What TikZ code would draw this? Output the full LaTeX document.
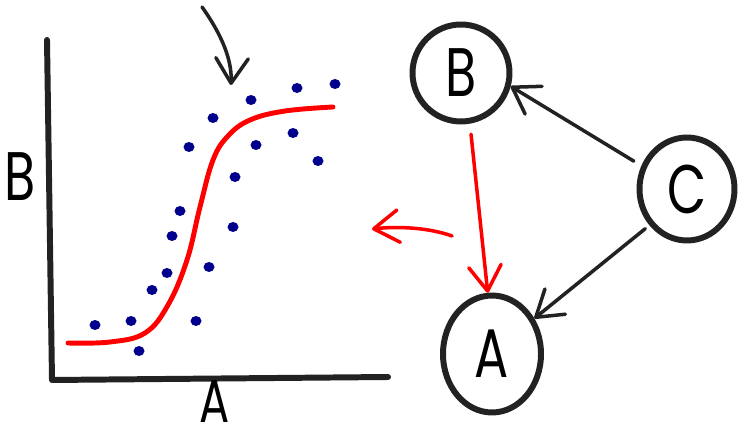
\documentclass[tikz,border=0pt]{standalone}
\usepackage{fontspec}
\setmainfont{Poppins}
\usetikzlibrary{arrows.meta,shapes.geometric}
\definecolor{ink}{HTML}{222222}
\definecolor{navy}{HTML}{00008C}
\newcommand\hand[1]{\scalebox{0.85}[1.15]{#1}}

\begin{document}
\begin{tikzpicture}[
    x=0.02cm, y=-0.02cm,
    font=\fontsize{34}{36}\selectfont,
    axis/.style={line width=3.4pt, draw=ink, line cap=round, line join=round},
    fit/.style={line width=2.8pt, red, line cap=round},
    dot/.style={fill=navy},
    var/.style={ellipse, draw=ink, line width=3.4pt, inner sep=0pt},
    link/.style={line width=2pt, draw=ink, line cap=round, -{Straight Barb[length=5mm, width=6.5mm, round]}},
    redlink/.style={link, draw=red}
]
\useasboundingbox (0,0) rectangle (740,431);

% axes
\draw[axis] (47,40) -- (52,380) -- (388,377);
\node (ylabel) at (20,177) {\hand{B}};
\node[font=\fontsize{30}{32}\selectfont, inner sep=0pt] (xlabel) at (215,402) {\hand{A}};

% data points
\foreach \px/\py in {95/325, 131/321, 139/351, 152/290, 167/273, 172/236,
                     180/211, 196/321, 209/267, 233/227, 235/177, 189/147,
                     213/118, 251/100, 256/145, 293/133, 297/88, 318/161, 335/84}
  \fill[dot] (\px,\py) ellipse [x radius=5.5, y radius=5];

% fitted curve
\draw[fit] plot[smooth, tension=0.65] coordinates {(68,343) (110,342) (145,333)
  (168,305) (187,260) (200,207) (213,160) (228,136) (250,120) (285,111) (333,107)};

% pointer to the knee
\coordinate (hintstart) at (202,7);
\coordinate (hintend) at (231,85);
\draw[link] (hintstart) .. controls (222,35) and (232,60) .. (hintend);

% back to the plot
\coordinate (backstart) at (452,236);
\coordinate (backend) at (372,229);
\draw[redlink] (backstart) .. controls (430,228) and (400,226) .. (backend);

% causal graph
\node[var, minimum width=1.94cm, minimum height=1.94cm] (B) at (461,73) {\hand{B}};
\node[var, minimum width=1.9cm, minimum height=2.06cm] (C) at (687,189) {\hand{C}};
\node[var, minimum width=1.96cm, minimum height=2.34cm] (A) at (492,354) {\hand{A}};

\draw[link, shorten <=5pt] (C.153) -- (B.-15);
\draw[link, shorten <=3pt] (C.224) -- (A.40);
\draw[redlink, shorten <=6pt] (B.-80) -- (A.94);

\end{tikzpicture}
\end{document}
